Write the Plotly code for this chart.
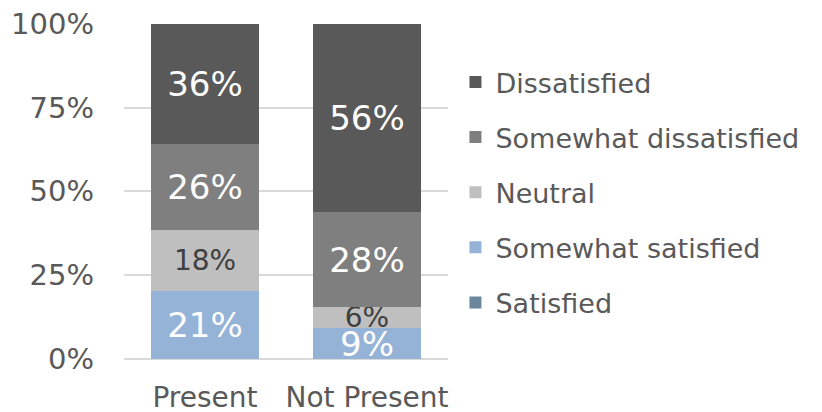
import plotly.graph_objects as go

categories = ["Present", "Not Present"]
series_names = ["Satisfied", "Somewhat satisfied", "Neutral", "Somewhat dissatisfied", "Dissatisfied"]
satisfied = [0.0, 0.0]
somewhat_satisfied = [20.3, 9.1]
neutral = [18.1, 6.5]
somewhat_dissatisfied = [25.7, 28.1]
dissatisfied = [35.9, 56.3]
labels_satisfied = ["", ""]
labels_somewhat_satisfied = ["21%", "9%"]
labels_neutral = ["18%", "6%"]
labels_somewhat_dissatisfied = ["26%", "28%"]
labels_dissatisfied = ["36%", "56%"]
tick_vals = [0, 25, 50, 75, 100]
tick_text = ["0%", "25%", "50%", "75%", "100%"]

values = [satisfied, somewhat_satisfied, neutral, somewhat_dissatisfied, dissatisfied]
labels = [labels_satisfied, labels_somewhat_satisfied, labels_neutral,
          labels_somewhat_dissatisfied, labels_dissatisfied]
colors = ["#6a879e", "#95b3d7", "#bfbfbf", "#7f7f7f", "#595959"]
text_colors = ["white", "white", "#404040", "white", "white"]
text_sizes = [34, 34, 28, 34, 34]

FONT = "DejaVu Sans"

fig = go.Figure()
n = len(series_names)
for i, (name, vals, labs, col, tcol, tsz) in enumerate(
        zip(series_names, values, labels, colors, text_colors, text_sizes)):
    fig.add_trace(go.Bar(
        x=categories, y=vals, name=name, legendgroup=name,
        legendrank=n - i,
        marker=dict(color=col, line=dict(width=0)),
        text=labs, textposition="inside", insidetextanchor="middle",
        constraintext="none", cliponaxis=False,
        insidetextfont=dict(color=tcol, size=tsz, family=FONT),
        hoverinfo="skip",
    ))

# page body has an 8px default margin, so the figure is sized 8px smaller
fig.update_layout(
    barmode="stack",
    bargap=0.333,
    width=814, height=404,
    margin=dict(l=116, r=374, t=15, b=53, autoexpand=False),
    paper_bgcolor="white", plot_bgcolor="white",
    font=dict(family=FONT, color="#595959"),
    showlegend=True,
    legend=dict(
        traceorder="grouped",
        x=1.023, xanchor="left", y=0.896, yanchor="top",
        font=dict(size=27, color="#595959", family=FONT),
        tracegroupgap=17, itemwidth=30,
        bgcolor="rgba(0,0,0,0)",
    ),
    xaxis=dict(
        showgrid=False, showline=False, ticks="", automargin=False,
        tickfont=dict(size=28, color="#595959"),
        ticklabelstandoff=19,
    ),
    yaxis=dict(
        range=[0, 100.2], tickvals=tick_vals, ticktext=tick_text,
        showgrid=True, gridcolor="#d9d9d9", gridwidth=1.5,
        zeroline=True, zerolinecolor="#d9d9d9", zerolinewidth=1.5,
        showline=False, ticks="", automargin=False,
        tickfont=dict(size=29, color="#595959"),
        ticklabelstandoff=29, ticklabeloverflow="allow",
    ),
)

fig.write_html("out.html")
